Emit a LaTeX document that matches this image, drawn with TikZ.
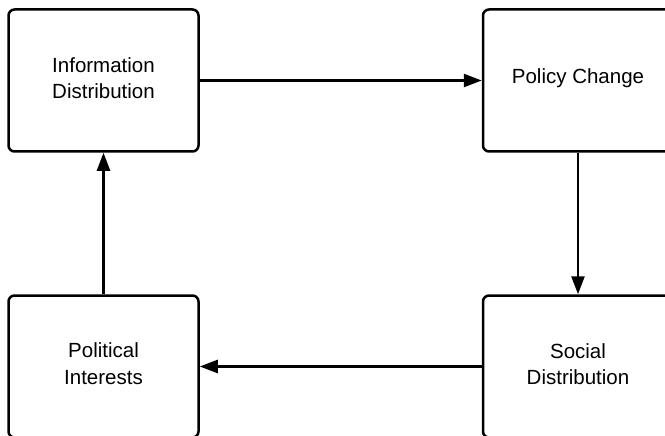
\documentclass[tikz,border=0pt]{standalone}
\usepackage{fontspec}
\setmainfont{Liberation Sans}
\usetikzlibrary{arrows.meta}
\begin{document}
\begin{tikzpicture}[x=1pt,y=-1pt,
  box/.style={draw=black,line width=2.5pt,rounded corners=6pt,minimum width=190pt,minimum height=142pt,inner sep=0pt},
  lbl/.style={align=center,font=\fontsize{20.5}{26.5}\selectfont,inner sep=0pt},
  conn/.style={line width=2.5pt,-{Triangle[length=18pt,width=13pt]}}]
\useasboundingbox (0,0) rectangle (665,436);
\fill[white] (0,0) rectangle (665,436);
\node[box] (info) at (103.5,80.5) {};
\node[box] (policy) at (578,80.5) {};
\node[box] (social) at (578,366.5) {};
\node[box] (pol) at (103.5,366.5) {};
\node[lbl] (infot) at ([yshift=2.5pt]info.center) {Information\\Distribution};
\node[lbl] (policyt) at ([yshift=2pt]policy.center) {Policy Change};
\node[lbl] (socialt) at ([yshift=2.5pt]social.center) {Social\\Distribution};
\node[lbl] (polt) at ([yshift=3pt]pol.center) {Political\\Interests};
\draw[conn] (info.east) -- (policy.west);
\draw[conn] (policy.south) -- (social.north);
\draw[conn] (social.west) -- (pol.east);
\draw[conn] (pol.north) -- (info.south);
\end{tikzpicture}
\end{document}
